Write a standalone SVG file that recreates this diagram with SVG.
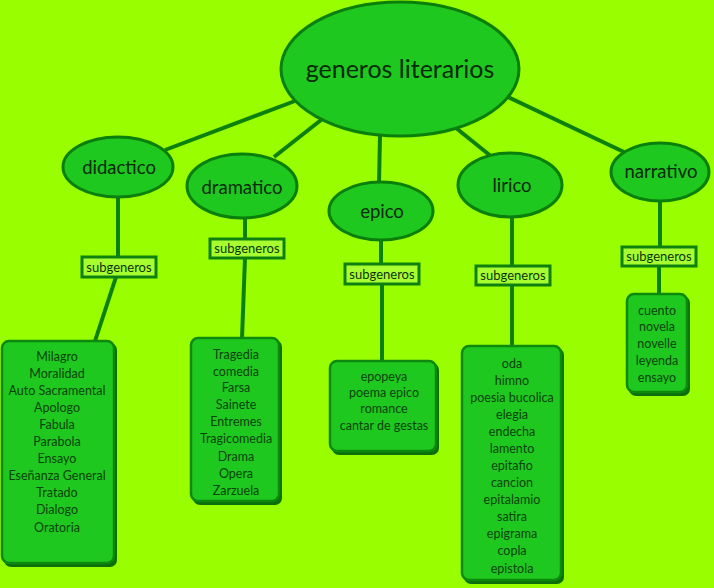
<svg xmlns="http://www.w3.org/2000/svg" width="714" height="588" viewBox="0 0 714 588">
<style>
.bg{fill:#99ff00}
.ell{fill:#1fc81f;stroke:#0b7f0b;stroke-width:3}
.sub{fill:#a8ff30;stroke:#0e800e;stroke-width:3}
.box{fill:#1fc81f;stroke:#0d8a0d;stroke-width:2.5}
.shadow{fill:#0b700b}
.con{stroke:#0c800c;stroke-width:4;fill:none}
text{font-family:Lato,"Open Sans","Liberation Sans",sans-serif;text-anchor:middle;dominant-baseline:central}
.t1{font-size:25px;fill:#062a06}
.t2{font-size:18.5px;fill:#062a06}
.ts{font-size:13px;fill:#0a350a}
.tl{font-size:12.5px;fill:#0a440a}
</style>
<rect class="bg" x="0" y="0" width="714" height="588"/>
<g id="connectors">
<line class="con" x1="165" y1="150" x2="295" y2="101"/>
<line class="con" x1="274" y1="157" x2="321" y2="120"/>
<line class="con" x1="380" y1="136" x2="379" y2="182"/>
<line class="con" x1="456" y1="128" x2="492" y2="157"/>
<line class="con" x1="508" y1="97" x2="624" y2="152"/>
<line class="con" x1="118" y1="198" x2="118" y2="257"/>
<line class="con" x1="116" y1="277" x2="95" y2="341"/>
<line class="con" x1="245" y1="218" x2="245" y2="239"/>
<line class="con" x1="245" y1="258" x2="242" y2="338"/>
<line class="con" x1="381" y1="240" x2="381" y2="264"/>
<line class="con" x1="382" y1="284" x2="382" y2="361"/>
<line class="con" x1="512" y1="217" x2="512" y2="266"/>
<line class="con" x1="512" y1="285" x2="512" y2="346"/>
<line class="con" x1="660" y1="201" x2="660" y2="247"/>
<line class="con" x1="659" y1="266" x2="659" y2="294"/>
</g>
<g id="root">
<ellipse class="ell" cx="400" cy="69" rx="119" ry="67"/>
<text class="t1" x="400" y="68">generos literarios</text>
</g>
<g id="didactico">
<ellipse class="ell" cx="118" cy="167" rx="55" ry="30"/>
<text class="t2" x="119" y="167">didactico</text>
</g>
<g id="dramatico">
<ellipse class="ell" cx="242" cy="186" rx="55" ry="32"/>
<text class="t2" x="242" y="187">dramatico</text>
</g>
<g id="epico">
<ellipse class="ell" cx="381" cy="211" rx="52" ry="29"/>
<text class="t2" x="382" y="211">epico</text>
</g>
<g id="lirico">
<ellipse class="ell" cx="510" cy="185" rx="52" ry="32"/>
<text class="t2" x="512" y="185">lirico</text>
</g>
<g id="narrativo">
<ellipse class="ell" cx="660" cy="172" rx="49" ry="29"/>
<text class="t2" x="661" y="171">narrativo</text>
</g>
<g id="sub-didactico">
<rect class="sub" x="82" y="257" width="74" height="20"/>
<text class="ts" x="119" y="267">subgeneros</text>
</g>
<g id="sub-dramatico">
<rect class="sub" x="210" y="239" width="74" height="19"/>
<text class="ts" x="247" y="248">subgeneros</text>
</g>
<g id="sub-epico">
<rect class="sub" x="345" y="264" width="74" height="20"/>
<text class="ts" x="382" y="274">subgeneros</text>
</g>
<g id="sub-lirico">
<rect class="sub" x="476" y="266" width="74" height="19"/>
<text class="ts" x="513" y="275">subgeneros</text>
</g>
<g id="sub-narrativo">
<rect class="sub" x="622" y="247" width="74" height="19"/>
<text class="ts" x="659" y="256">subgeneros</text>
</g>
<g id="list-didactico">
<rect class="shadow" x="4" y="343" width="113" height="224" rx="7"/>
<rect class="box" x="2" y="341" width="112" height="222" rx="7"/>
<text class="tl" x="57" y="356">Milagro</text>
<text class="tl" x="57" y="373">Moralidad</text>
<text class="tl" x="57" y="390">Auto Sacramental</text>
<text class="tl" x="57" y="407">Apologo</text>
<text class="tl" x="57" y="424">Fabula</text>
<text class="tl" x="57" y="441">Parabola</text>
<text class="tl" x="57" y="458">Ensayo</text>
<text class="tl" x="57" y="475">Eseñanza General</text>
<text class="tl" x="57" y="492">Tratado</text>
<text class="tl" x="57" y="509">Dialogo</text>
<text class="tl" x="57" y="527">Oratoria</text>
</g>
<g id="list-dramatico">
<rect class="shadow" x="193" y="340" width="89" height="165" rx="7"/>
<rect class="box" x="191" y="338" width="88" height="163" rx="7"/>
<text class="tl" x="236" y="354">Tragedia</text>
<text class="tl" x="236" y="371">comedia</text>
<text class="tl" x="236" y="387">Farsa</text>
<text class="tl" x="236" y="404">Sainete</text>
<text class="tl" x="236" y="421">Entremes</text>
<text class="tl" x="236" y="438">Tragicomedia</text>
<text class="tl" x="236" y="456">Drama</text>
<text class="tl" x="236" y="473">Opera</text>
<text class="tl" x="236" y="490">Zarzuela</text>
</g>
<g id="list-epico">
<rect class="shadow" x="332" y="363" width="107" height="92" rx="7"/>
<rect class="box" x="330" y="361" width="106" height="90" rx="7"/>
<text class="tl" x="384" y="376">epopeya</text>
<text class="tl" x="384" y="392">poema epico</text>
<text class="tl" x="384" y="408">romance</text>
<text class="tl" x="384" y="425">cantar de gestas</text>
</g>
<g id="list-lirico">
<rect class="shadow" x="464" y="348" width="100" height="236" rx="7"/>
<rect class="box" x="462" y="346" width="99" height="234" rx="7"/>
<text class="tl" x="512" y="363">oda</text>
<text class="tl" x="512" y="380">himno</text>
<text class="tl" x="512" y="397">poesia bucolica</text>
<text class="tl" x="512" y="414">elegia</text>
<text class="tl" x="512" y="431">endecha</text>
<text class="tl" x="512" y="448">lamento</text>
<text class="tl" x="512" y="465">epitafio</text>
<text class="tl" x="512" y="482">cancion</text>
<text class="tl" x="512" y="499">epitalamio</text>
<text class="tl" x="512" y="516">satira</text>
<text class="tl" x="512" y="533">epigrama</text>
<text class="tl" x="512" y="550">copla</text>
<text class="tl" x="512" y="568">epistola</text>
</g>
<g id="list-narrativo">
<rect class="shadow" x="629" y="296" width="61" height="100" rx="7"/>
<rect class="box" x="627" y="294" width="60" height="98" rx="7"/>
<text class="tl" x="657" y="310">cuento</text>
<text class="tl" x="657" y="326">novela</text>
<text class="tl" x="657" y="343">novelle</text>
<text class="tl" x="657" y="360">leyenda</text>
<text class="tl" x="657" y="377">ensayo</text>
</g>
</svg>
